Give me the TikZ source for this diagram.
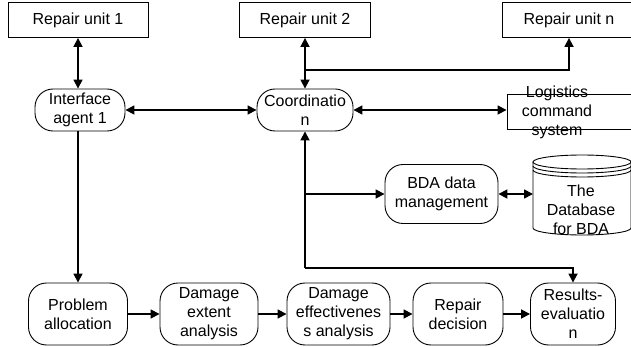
\documentclass[tikz,border=0pt]{standalone}
\usepackage{fontspec}
\setmainfont{Liberation Sans}
\usetikzlibrary{arrows.meta}
\begin{document}
\begin{tikzpicture}[x=1pt,y=-1pt,
  box/.style={draw, line width=0.9pt, inner sep=0pt, align=center,
    font=\fontsize{16}{19}\selectfont},
  rbox/.style={box, rounded corners=18pt},
  txt/.style={inner sep=0pt, align=center, font=\fontsize{16}{19}\selectfont},
  tip/.tip={Triangle[length=9pt,width=9pt]},
  link/.style={line width=1.7pt, -tip},
  dlink/.style={line width=1.7pt, tip-tip},
]
\useasboundingbox (0,0) rectangle (631,347);
\clip (0,0) rectangle (631,347);

% top row: repair units
\node[box, minimum width=140pt, minimum height=35pt] (ru1) at (78,20) {Repair unit 1};
\node[box, minimum width=131pt, minimum height=35pt] (ru2) at (305,20) {Repair unit 2};
\node[box, minimum width=134pt, minimum height=35pt] (run) at (569,20) {Repair unit n};

% agents and command system
\node[rbox, minimum width=90pt, minimum height=42pt] (ia) at (80,110) {Interface\\agent 1};
\node[rbox, minimum width=96pt, minimum height=42pt] (co) at (305,110) {Coordinatio\\n};
\node[box, minimum width=130pt, minimum height=35pt] (lcs) at (572,112) {};
\node[txt] (lcst) at (557,112) {Logistics\\command\\system};

% BDA data management and its database
\node[rbox, minimum width=113pt, minimum height=59pt] (bda) at (441.5,194) {BDA data\\management};
\draw[line width=0.9pt] (533,162) -- (533,228)
  arc[start angle=180, end angle=0, x radius=49, y radius=7] -- (631,162);
\draw[line width=0.9pt] (582,162) ellipse[x radius=49, y radius=7];
\draw[line width=0.9pt] (533,166) arc[start angle=180, end angle=0, x radius=49, y radius=7];
\draw[line width=0.9pt] (533,170) arc[start angle=180, end angle=0, x radius=49, y radius=7];
\coordinate (dbl) at (533,194);
\node[txt] (dbt) at (581,210) {The\\Database\\for BDA};

% bottom row: assessment chain
\node[rbox, minimum width=99pt, minimum height=62pt] (pa) at (78,314) {Problem\\allocation};
\node[rbox, minimum width=98pt, minimum height=62pt] (dea) at (209,314) {Damage\\extent\\analysis};
\node[rbox, minimum width=103pt, minimum height=62pt] (dee) at (338.5,314) {Damage\\effectivenes\\s analysis};
\node[rbox, minimum width=90pt, minimum height=62pt] (rd) at (458,314) {Repair\\decision};
\node[rbox, minimum width=85pt, minimum height=62pt] (re) at (573,314) {Results-\\evaluatio\\n};

% connectors
\draw[dlink] (ru1.south) -- (ru1.south |- ia.north);
\draw[dlink] (ia.east) -- (co.west);
\draw[dlink] (ru2.south) -- (ru2.south |- co.north);
\coordinate (j1) at (305,70);
\draw[link] (j1) -| (run.south);
\draw[dlink] (co.east) -- (lcs.west |- co.east);
\coordinate (j2) at (305,268);
\draw[link] (j2) -- (co.south);
\draw[link] (j2) -| (re.north);
\draw[link] (co.south |- bda.west) -- (bda.west);
\draw[dlink] (bda.east) -- (dbl |- bda.east);
\draw[link] (pa.north |- ia.south) -- (pa.north);
\draw[link] (pa) -- (dea);
\draw[link] (dea) -- (dee);
\draw[link] (dee) -- (rd);
\draw[link] (rd) -- (re);
\end{tikzpicture}
\end{document}
